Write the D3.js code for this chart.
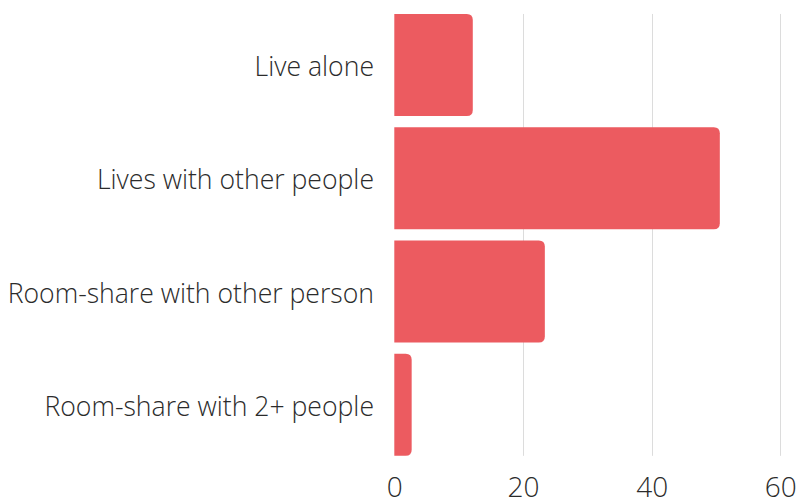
<!DOCTYPE html>
<html><head><meta charset="utf-8">
<script src="https://cdn.jsdelivr.net/npm/d3@7"></script>
<style>
html,body{margin:0;padding:0;background:#fff;}
svg{display:block;}
text{font-family:"Open Sans",sans-serif;font-weight:300;fill:#2b2b2b;}
</style></head>
<body><svg id="chart" width="796" height="500"></svg>
<script>
const categories = ["Live alone","Lives with other people","Room-share with other person","Room-share with 2+ people"];
const values = [12.2, 50.6, 23.4, 2.7];
const tickValues = [0, 20, 40, 60];

const svg = d3.select("#chart");
const x = d3.scaleLinear().domain([0, 60]).range([394.3, 780.3]);
const y = d3.scaleBand().domain(categories).range([8.3, 461.5]).paddingInner(0.1).paddingOuter(0.05);

const plotTop = y(categories[0]), plotBottom = y(categories[categories.length-1]) + y.bandwidth();

// gridlines
svg.append("g").selectAll("line").data(tickValues.slice(1)).join("line")
  .attr("x1", d => Math.round(x(d)) + 0.5).attr("x2", d => Math.round(x(d)) + 0.5)
  .attr("y1", plotTop).attr("y2", plotBottom)
  .attr("stroke", "#dcdcdc").attr("stroke-width", 1);

// bars with right rounded corners
const r = 6;
function barPath(d, i) {
  const x0 = x(0), x1 = x(d), y0 = y(categories[i]), h = y.bandwidth();
  const rr = Math.min(r, (x1 - x0));
  return `M${x0},${y0}H${x1-rr}Q${x1},${y0} ${x1},${y0+rr}V${y0+h-rr}Q${x1},${y0+h} ${x1-rr},${y0+h}H${x0}Z`;
}
svg.append("g").selectAll("path").data(values).join("path")
  .attr("d", barPath).attr("fill", "#ec5b60");

// category labels
svg.append("g").selectAll("text").data(categories).join("text")
  .attr("x", 374).attr("y", d => y(d) + y.bandwidth()/2 + 11)
  .attr("text-anchor", "end").attr("font-size", 26.6).text(d => d);

// x tick labels
const xAxis = d3.axisBottom(x).tickValues(tickValues).tickSize(0).tickPadding(0).tickFormat(d3.format("d"));
const gx = svg.append("g").call(xAxis);
gx.select(".domain").remove();
gx.selectAll("text").attr("y", 496.7).attr("dy", null)
  .attr("font-size", 28).attr("fill", "#2b2b2b")
  .style("font-family", '"Open Sans",sans-serif').style("font-weight", 300);
</script></body></html>
